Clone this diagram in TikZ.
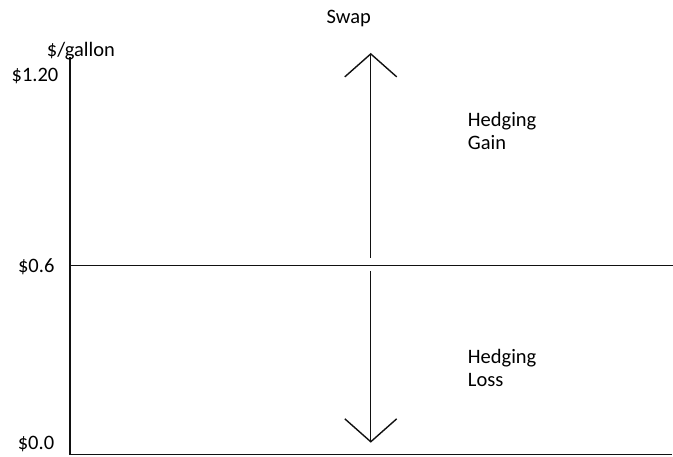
\documentclass[tikz,border=0pt]{standalone}
\usepackage{fontspec}
\setmainfont{Carlito}
\usepackage{xcolor}
\definecolor{axisInk}{HTML}{111111}
\usetikzlibrary{arrows.meta}

\begin{document}
\begin{tikzpicture}[x=1pt, y=-1pt, font=\fontsize{20.5}{23}\selectfont,
  swapArrow/.style={axisInk, line width=1.4pt,
    -{Straight Barb[length=23pt, width=52pt, line width=1.4pt]}}]
  \filldraw[fill=white, draw=none] (0,0) rectangle (673,457);
  % axes and price level
  \coordinate (top) at (70,57);
  \coordinate (origin) at (70,455);
  \coordinate (xend) at (672,455);
  \coordinate (mid) at (70,266);
  \coordinate (midend) at (673,266);
  \draw[axisInk, line width=2pt] (top) -- (origin);
  \draw[axisInk, line width=1pt] (origin) -- (xend);
  \draw[axisInk, line width=0.9pt] (mid) -- (midend);
  % labels
  \node (unit) at (81,51) {\$/gallon};
  \node (high) at (35,76) {\$1.20};
  \node[anchor=east] (price) at (58,267) {\$0.6};
  \node (zero) at (36,444) {\$0.0};
  \node (swap) at (349,19) {Swap};
  \node[anchor=north west, align=left, inner sep=0pt] (gain) at (468,112) {Hedging\\Gain};
  \node[anchor=north west, align=left, inner sep=0pt] (loss) at (468,349) {Hedging\\Loss};
  % swap arrows
  \coordinate (upStart) at (371,258);
  \coordinate (upTip) at (371,53);
  \coordinate (dnStart) at (371,271);
  \coordinate (dnTip) at (371,443);
  \draw[swapArrow] (upStart) -- (upTip);
  \draw[swapArrow] (dnStart) -- (dnTip);
\end{tikzpicture}
\end{document}
